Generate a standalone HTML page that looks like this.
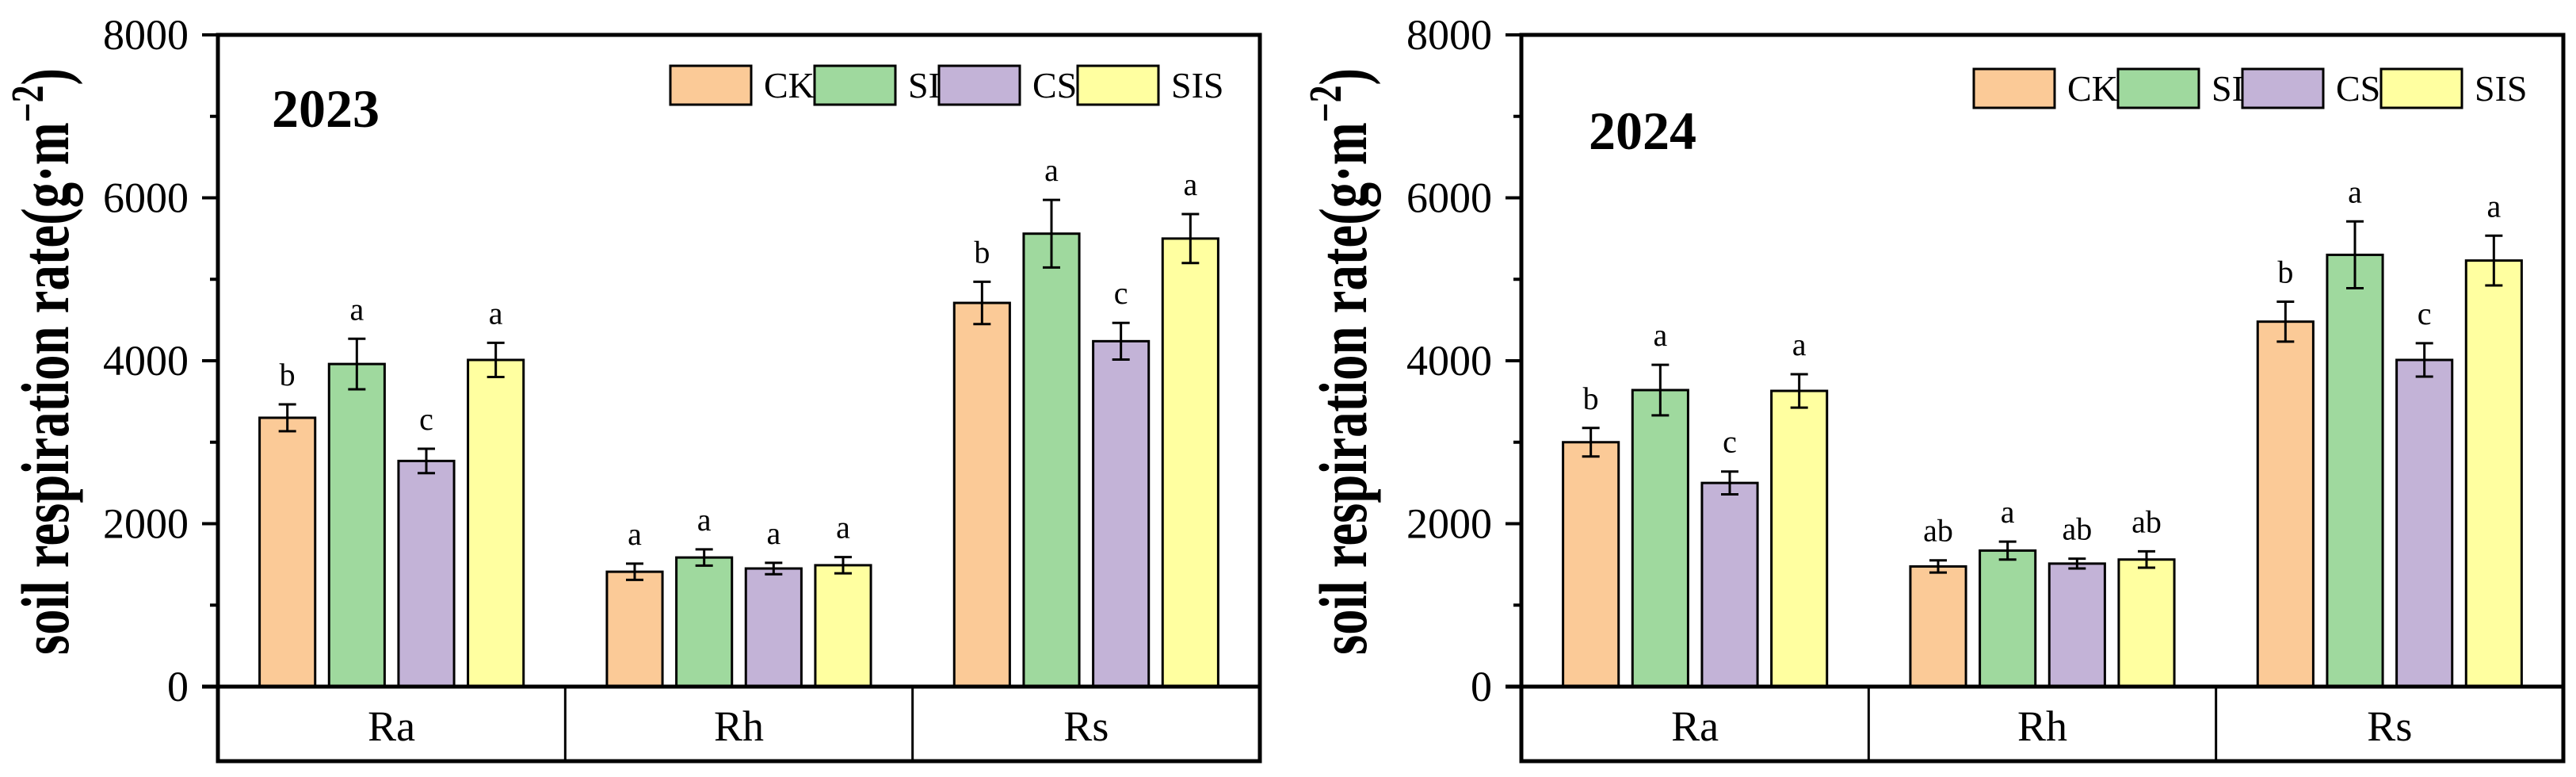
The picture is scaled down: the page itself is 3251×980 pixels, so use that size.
<!DOCTYPE html>
<html><head><meta charset="utf-8">
<style>
html,body{margin:0;padding:0;background:#fff;}
svg{display:block;}
text{font-family:"Liberation Serif",serif;fill:#000;}
</style></head>
<body>
<svg id="chart" width="3251" height="980" viewBox="0 0 3251 980" xmlns="http://www.w3.org/2000/svg"></svg>
<script>
const categories = ["Ra","Rh","Rs"];
const treatments = ["CK","SI","CS","SIS"];
const colors = ["#FBCA97","#9FD99E","#C3B3D7","#FFFFA0"];
const yTicks = [0,2000,4000,6000,8000];
const yMinorTicks = [1000,3000,5000,7000];
// 2023
const ck2023 = [3300,1410,4710];
const si2023 = [3960,1585,5560];
const cs2023 = [2770,1450,4240];
const sis2023 = [4010,1490,5500];
const ckErr2023 = [165,100,260];
const siErr2023 = [310,100,415];
const csErr2023 = [150,70,225];
const sisErr2023 = [210,100,300];
const ckSig2023 = ["b","a","b"];
const siSig2023 = ["a","a","a"];
const csSig2023 = ["c","a","c"];
const sisSig2023 = ["a","a","a"];
// 2024
const ck2024 = [3000,1475,4480];
const si2024 = [3640,1670,5300];
const cs2024 = [2500,1510,4010];
const sis2024 = [3630,1560,5230];
const ckErr2024 = [175,75,245];
const siErr2024 = [310,110,410];
const csErr2024 = [140,60,205];
const sisErr2024 = [205,100,305];
const ckSig2024 = ["b","ab","b"];
const siSig2024 = ["a","a","a"];
const csSig2024 = ["c","ab","c"];
const sisSig2024 = ["a","ab","a"];

const NS = "http://www.w3.org/2000/svg";
const svg = document.getElementById("chart");
function mk(tag, attrs, parent){
  const e = document.createElementNS(NS, tag);
  for (const k in attrs) e.setAttribute(k, attrs[k]);
  (parent||svg).appendChild(e);
  return e;
}

function panel(opts){
  const L = opts.left, R = opts.right, T = 44, Z = 866, B = 960;
  const g = mk("g", {});
  
  
  const y = v => Z - (v/8000)*(Z-T);
  const catW = (R-L)/categories.length;
  const xCat = i => L + catW*(i+0.5);
  const barW = catW*0.16, step = catW*0.2;

  yTicks.forEach(t=>{
    const ln = mk("line",{x1:L-20,x2:L,y1:y(t),y2:y(t),stroke:"#000","stroke-width":4},g);
    
    
    const tx = mk("text",{x:L-37,y:y(t)+18,"text-anchor":"end","font-size":54},g);
    tx.textContent = t;
    
    
  });
  yMinorTicks.forEach(t=>{
    const ln = mk("line",{x1:L-10,x2:L,y1:y(t),y2:y(t),stroke:"#000","stroke-width":4},g);
    
    
  });

  const series = opts.series;
  categories.forEach((c,i)=>{
    series.forEach((s,j)=>{
      const cx = xCat(i) + (j-1.5)*step;
      const v = s.vals[i], e = s.err[i];
      const r = mk("rect",{x:cx-barW/2,y:y(v),width:barW,height:Z-y(v),fill:colors[j],stroke:"#000","stroke-width":3},g);
      
      
      const eg = mk("g",{stroke:"#000","stroke-width":3},g);
      
      
      mk("line",{x1:cx,x2:cx,y1:y(v+e),y2:y(v-e)},eg);
      mk("line",{x1:cx-11,x2:cx+11,y1:y(v+e),y2:y(v+e)},eg);
      mk("line",{x1:cx-11,x2:cx+11,y1:y(v-e),y2:y(v-e)},eg);
      const lt = mk("text",{x:cx,y:y(v+e)-24,"text-anchor":"middle","font-size":40},g);
      lt.textContent = s.sig[i];
      
      
    });
  });

  const fr = mk("rect",{x:L,y:T,width:R-L,height:B-T,fill:"none",stroke:"#000","stroke-width":5},g);
  
  
  const zl = mk("line",{x1:L-20,x2:R,y1:Z,y2:Z,stroke:"#000","stroke-width":5},g);
  
  
  for (let i=1;i<categories.length;i++){
    const d = mk("line",{x1:L+catW*i,x2:L+catW*i,y1:Z,y2:B,stroke:"#000","stroke-width":3},g);
    
    
  }
  categories.forEach((c,i)=>{
    const t = mk("text",{x:xCat(i),y:934,"text-anchor":"middle","font-size":54},g);
    t.textContent = c;
    
    
  });

  const yt = mk("text",{x:0,y:0,"font-size":86,"font-weight":"bold",transform:`translate(${opts.titleX},826) rotate(-90)`,textLength:740,lengthAdjust:"spacingAndGlyphs"},g);
  yt.innerHTML = 'soil respiration rate(g·m<tspan dy="-32" font-size="58">−2</tspan><tspan dy="32">)</tspan>';
  
  

  const yr = mk("text",{x:opts.yearX,y:opts.yearY,"font-size":68,"font-weight":"bold"},g);
  yr.textContent = opts.year;
  
  

  const boxX = [571,753,910,1085];
  treatments.forEach((t,j)=>{
    const bx = L + boxX[j];
    const lt = mk("text",{x:bx+118,y:opts.legY+40,"font-size":46},g);
    lt.textContent = t;
    
    
  });
  treatments.forEach((t,j)=>{
    const bx = L + boxX[j];
    const rb = mk("rect",{x:bx,y:opts.legY,width:102,height:49,fill:colors[j],stroke:"#000","stroke-width":3},g);
    
    
  });
}

panel({name:"panel-2023",left:275,right:1590,titleX:86,year:"2023",yearX:343,yearY:160,legY:83,
  series:[
    {vals:ck2023,err:ckErr2023,sig:ckSig2023},
    {vals:si2023,err:siErr2023,sig:siSig2023},
    {vals:cs2023,err:csErr2023,sig:csSig2023},
    {vals:sis2023,err:sisErr2023,sig:sisSig2023}]});
panel({name:"panel-2024",left:1920,right:3235,titleX:1724,year:"2024",yearX:2005,yearY:188,legY:87,
  series:[
    {vals:ck2024,err:ckErr2024,sig:ckSig2024},
    {vals:si2024,err:siErr2024,sig:siSig2024},
    {vals:cs2024,err:csErr2024,sig:csSig2024},
    {vals:sis2024,err:sisErr2024,sig:sisSig2024}]});
</script>
</body></html>
